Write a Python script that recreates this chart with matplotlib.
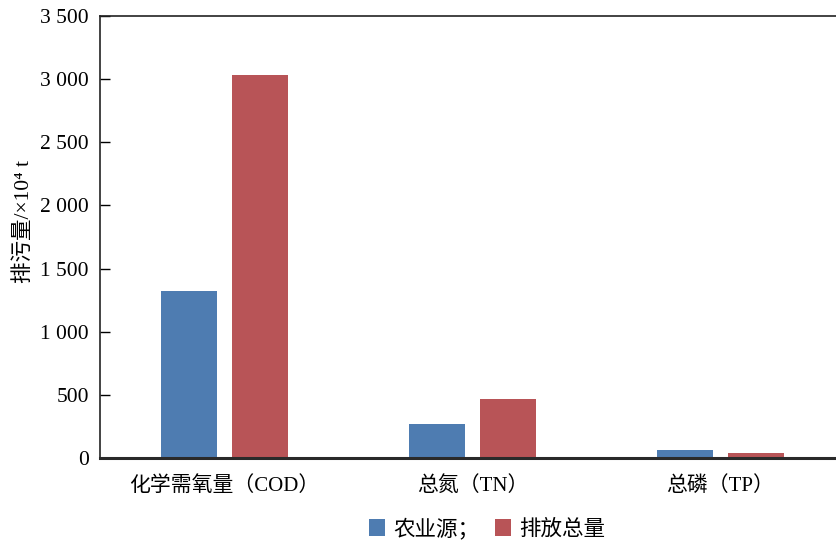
import numpy as np
import matplotlib
matplotlib.use('Agg')
import matplotlib.pyplot as plt
from matplotlib.ticker import FuncFormatter

plt.rcParams['font.family'] = ['Liberation Serif', 'Noto Sans CJK SC', 'DejaVu Sans']

categories = ['化学需氧量（COD）', '总氮（TN）', '总磷（TP）']
agri = [1322, 269, 63]
total = [3032, 467, 40]
series_names = ['农业源；', '排放总量']
yticks = [0, 500, 1000, 1500, 2000, 2500, 3000, 3500]

blue = '#4E7CB1'
red = '#B85457'

fig = plt.figure(figsize=(8.36, 5.42), dpi=100)
ax = fig.add_axes([100 / 836, 1 - 458 / 542, 736 / 836, 442 / 542])

x = np.arange(len(categories))
w = 0.226
b1 = ax.bar(x - 0.143, agri, w, color=blue, label=series_names[0])
b2 = ax.bar(x + 0.143, total, w, color=red, label=series_names[1])

ax.set_xlim(-0.503, 2.466)
ax.set_ylim(0, 3500)
ax.set_yticks(yticks)


def fmt(v, pos):
    v = int(v)
    if v >= 1000:
        return '%d %03d' % (v // 1000, v % 1000)
    return str(v)


ax.yaxis.set_major_formatter(FuncFormatter(fmt))
ax.set_xticks(x)
ax.set_xticklabels(categories, fontsize=15, fontweight='medium')
ax.tick_params(axis='x', length=0, pad=13)
ax.tick_params(axis='y', direction='in', length=7, width=1, labelsize=15.5, pad=8)

ax.spines['right'].set_visible(False)
ax.spines['top'].set_linewidth(1.2)
ax.spines['top'].set_color('#222222')
ax.spines['left'].set_linewidth(1.2)
ax.spines['left'].set_color('#222222')
ax.spines['bottom'].set_linewidth(2.2)
ax.spines['bottom'].set_color('#2a2a2a')

ax.set_ylabel('排污量/×10⁴ t', fontsize=15.5, fontweight='medium')
ax.yaxis.set_label_coords(-0.09, 0.535)

fig.legend(handles=[b1, b2], loc='center', bbox_to_anchor=(487 / 836, 1 - 529 / 542),
           ncol=2, frameon=False, prop={'size': 15.5, 'weight': 'medium'},
           handlelength=0.75, handleheight=0.85, handletextpad=0.4, columnspacing=0.7)

fig.savefig('out.png', dpi=100)
